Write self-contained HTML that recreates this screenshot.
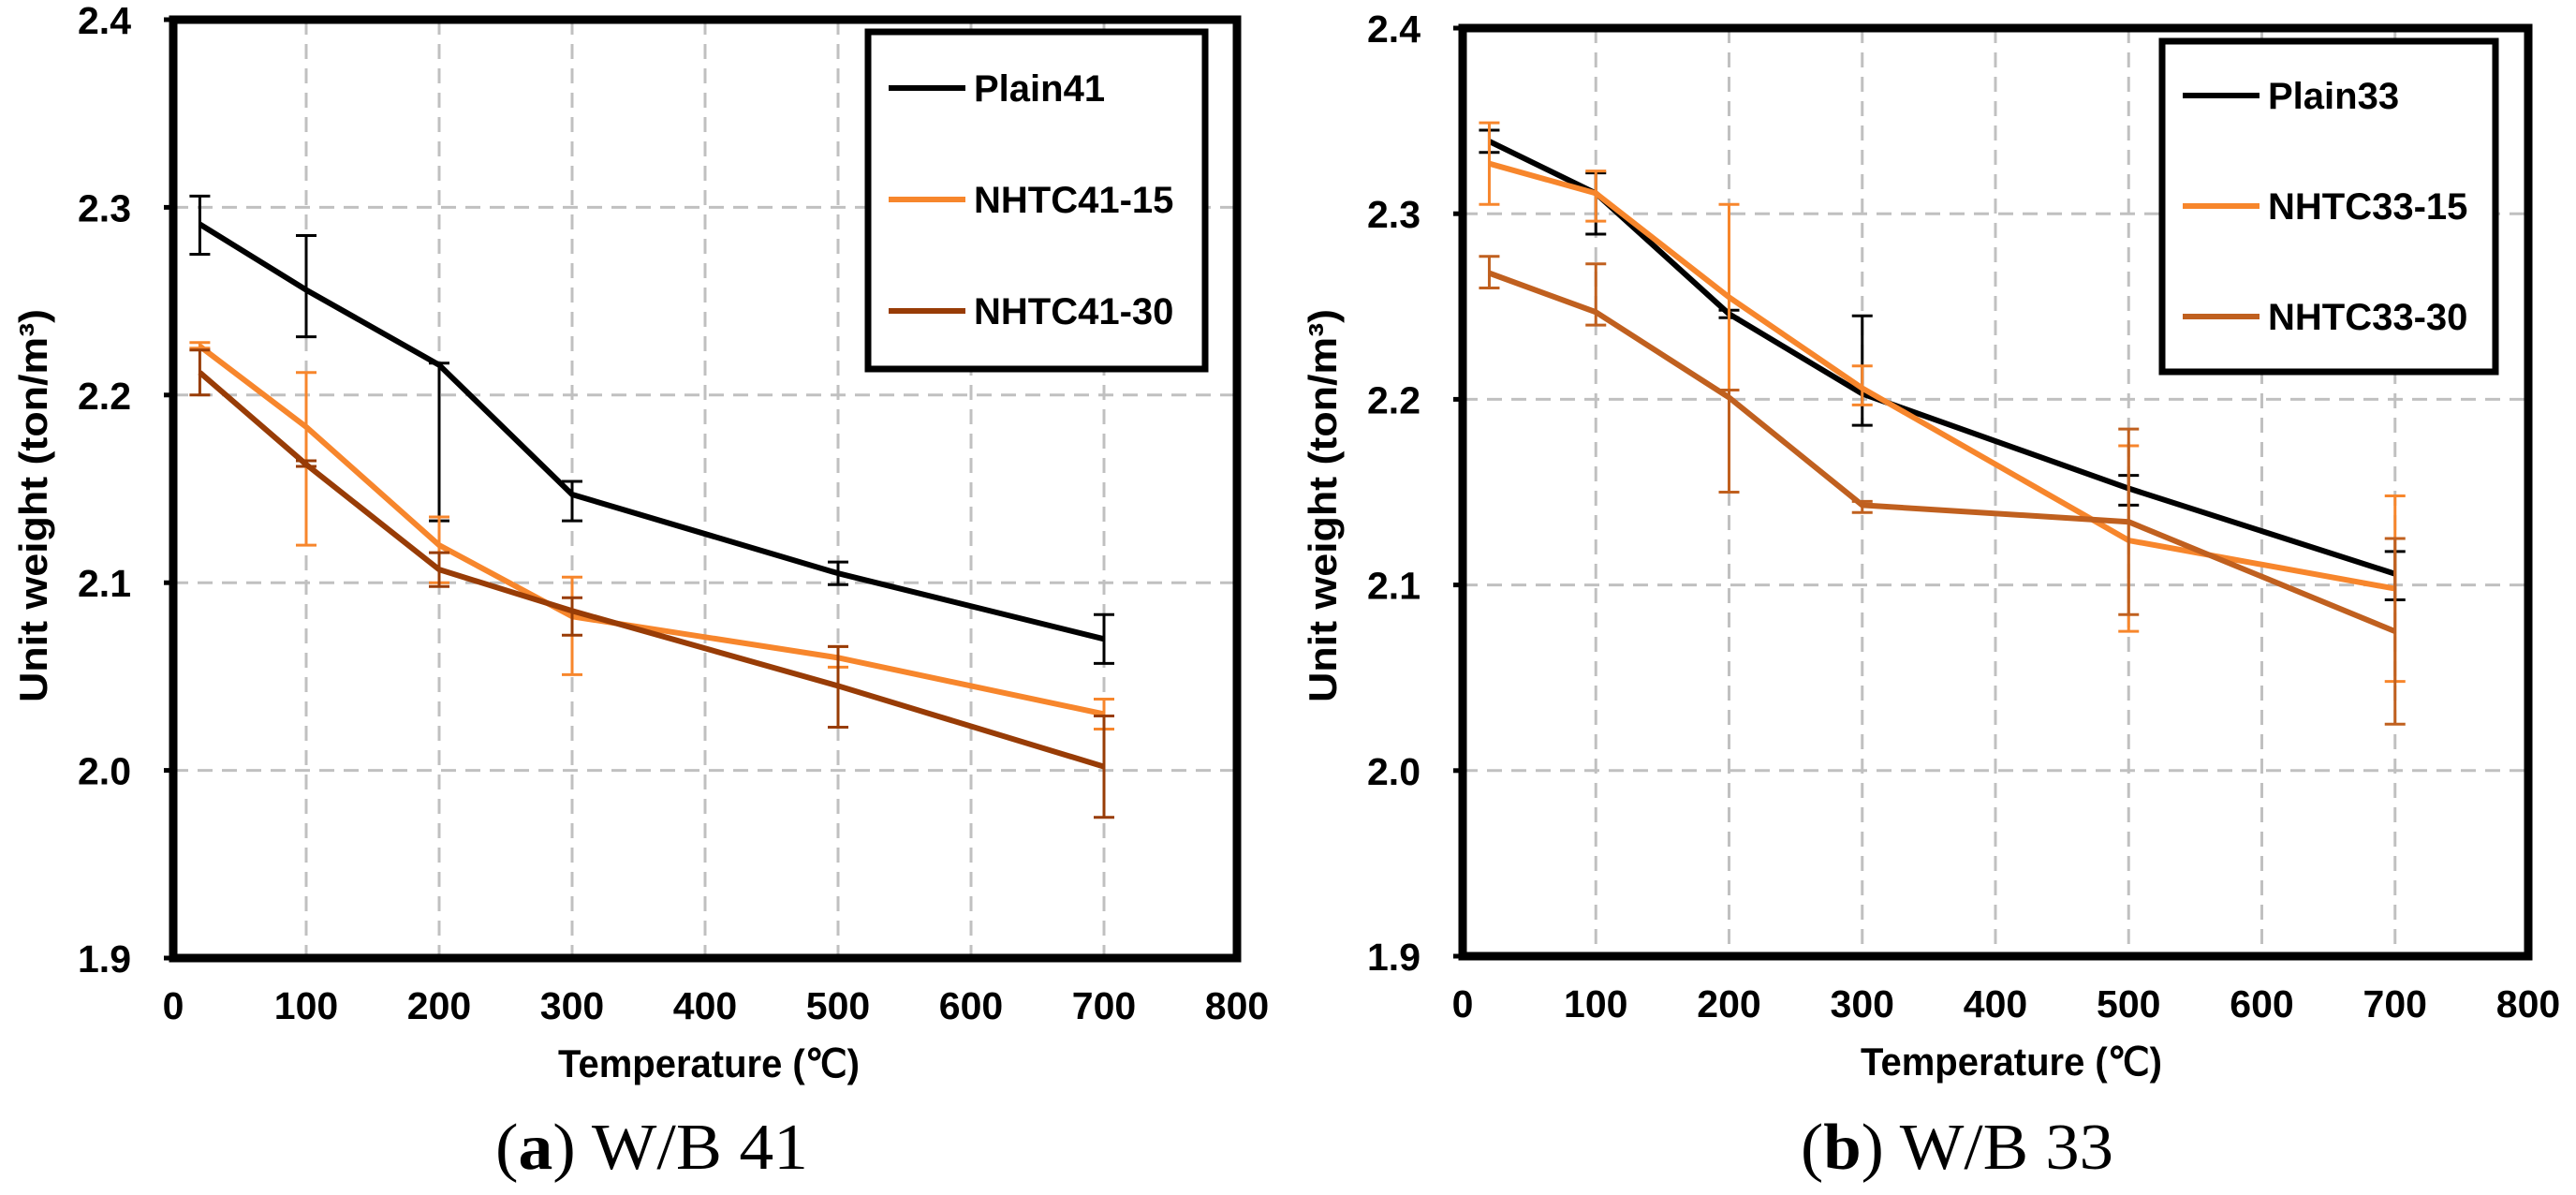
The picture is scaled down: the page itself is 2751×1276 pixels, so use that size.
<!DOCTYPE html>
<html><head><meta charset="utf-8"><style>
html,body{margin:0;padding:0;background:#fff}
svg{display:block}
text{font-family:"Liberation Sans",Arial,sans-serif;font-weight:bold;fill:#000}
.cap{font-family:"Liberation Serif","Times New Roman",serif;font-weight:normal}
</style></head><body>
<svg id="fig" width="2751" height="1276" viewBox="0 0 2751 1276" xmlns="http://www.w3.org/2000/svg"></svg>
<script>
const temps = [20, 100, 200, 300, 500, 700];
const xTicks = [0, 100, 200, 300, 400, 500, 600, 700, 800];
const yTicks = [1.9, 2.0, 2.1, 2.2, 2.3, 2.4];
const yTickLabels = ["1.9", "2.0", "2.1", "2.2", "2.3", "2.4"];
const namesA = ["Plain41", "NHTC41-15", "NHTC41-30"];
const plain41 = [2.291, 2.256, 2.216, 2.147, 2.105, 2.070];
const plain41Lo = [2.275, 2.231, 2.133, 2.133, 2.099, 2.057];
const plain41Hi = [2.306, 2.285, 2.217, 2.154, 2.111, 2.083];
const nhtc41_15 = [2.226, 2.183, 2.120, 2.082, 2.060, 2.030];
const nhtc41_15Lo = [2.225, 2.120, 2.100, 2.051, 2.055, 2.022];
const nhtc41_15Hi = [2.228, 2.212, 2.135, 2.103, 2.066, 2.038];
const nhtc41_30 = [2.212, 2.163, 2.107, 2.085, 2.045, 2.002];
const nhtc41_30Lo = [2.200, 2.162, 2.098, 2.072, 2.023, 1.975];
const nhtc41_30Hi = [2.224, 2.165, 2.116, 2.092, 2.066, 2.029];
const namesB = ["Plain33", "NHTC33-15", "NHTC33-30"];
const plain33 = [2.339, 2.311, 2.246, 2.203, 2.152, 2.106];
const plain33Lo = [2.333, 2.289, 2.244, 2.186, 2.143, 2.092];
const plain33Hi = [2.345, 2.322, 2.248, 2.245, 2.159, 2.118];
const nhtc33_15 = [2.327, 2.311, 2.255, 2.206, 2.124, 2.098];
const nhtc33_15Lo = [2.305, 2.296, 2.205, 2.197, 2.075, 2.048];
const nhtc33_15Hi = [2.349, 2.323, 2.305, 2.218, 2.175, 2.148];
const nhtc33_30 = [2.268, 2.247, 2.201, 2.143, 2.134, 2.075];
const nhtc33_30Lo = [2.260, 2.240, 2.150, 2.139, 2.084, 2.025];
const nhtc33_30Hi = [2.277, 2.273, 2.205, 2.145, 2.184, 2.125];

const NS = "http://www.w3.org/2000/svg";
const svg = document.getElementById("fig");
function mk(tag, attrs, parent) {
  const e = document.createElementNS(NS, tag);
  for (const k in attrs) e.setAttribute(k, attrs[k]);
  (parent || svg).appendChild(e);
  return e;
}
function chart(cfg) {
  const g = mk("g", {});
  
  
  const X = v => cfg.x0 + (v - 0) / 800 * (cfg.x1 - cfg.x0);
  const Y = v => cfg.y1 - (v - 1.9) / 0.5 * (cfg.y1 - cfg.y0);
  // grid
  xTicks.forEach(t => {
    if (t === 0 || t === 800) return;
    const l = mk("line", {x1: X(t), x2: X(t), y1: cfg.y0, y2: cfg.y1, stroke: "#c0c0c0", "stroke-width": 3, "stroke-dasharray": "16,10"}, g);
    
    
  });
  yTicks.forEach(t => {
    if (t === 1.9 || t === 2.4) return;
    const l = mk("line", {x1: cfg.x0, x2: cfg.x1, y1: Y(t), y2: Y(t), stroke: "#c0c0c0", "stroke-width": 3, "stroke-dasharray": "16,10"}, g);
    
    
  });
  // ticks labels
  xTicks.forEach(t => {
    const tx = mk("text", {x: X(t), y: cfg.y1 + 65, "font-size": 41, "text-anchor": "middle"}, g);
    tx.textContent = String(t);
    
    
  });
  yTicks.forEach((t, i) => {
    const tx = mk("text", {x: cfg.x0 - 45, y: Y(t) + 15, "font-size": 41, "text-anchor": "end"}, g);
    tx.textContent = yTickLabels[i];
    
    
    const tk = mk("line", {x1: cfg.x0 - 10, x2: cfg.x0, y1: Y(t), y2: Y(t), stroke: "#000", "stroke-width": 5}, g);
    
    
  });
  // series
  cfg.series.forEach((s, si) => {
    const sg = mk("g", {}, g);
    
    
    temps.forEach((t, i) => {
      const x = X(t);
      const eb = mk("path", {d: `M${x},${Y(s.lo[i])}V${Y(s.hi[i])}M${x-11},${Y(s.lo[i])}h22M${x-11},${Y(s.hi[i])}h22`, stroke: s.color, "stroke-width": 3, fill: "none"}, sg);
      
      
    });
    const pts = temps.map((t, i) => X(t) + "," + Y(s.v[i])).join(" ");
    const pl = mk("polyline", {points: pts, fill: "none", stroke: s.color, "stroke-width": 6, "stroke-linejoin": "round"}, sg);
    
    
  });
  // frame
  const fr = mk("rect", {x: cfg.x0, y: cfg.y0, width: cfg.x1 - cfg.x0, height: cfg.y1 - cfg.y0, fill: "none", stroke: "#000", "stroke-width": 9}, g);
  
  
  // legend
  const lg = mk("g", {}, g);
  
  
  const L = cfg.leg;
  mk("rect", {x: L.x, y: L.y, width: L.w, height: L.h, fill: "#fff", stroke: "#000", "stroke-width": 7}, lg);
  cfg.series.forEach((s, si) => {
    const ey = L.ey[si];
    const le = mk("g", {}, lg);
    
    
    mk("line", {x1: L.x + 22, x2: L.x + 104, y1: ey, y2: ey, stroke: s.color, "stroke-width": 6}, le);
    const tx = mk("text", {x: L.x + 113, y: ey + 14, "font-size": 40}, le);
    tx.textContent = cfg.names[si];
  });
  // axis titles
  const xt = mk("text", {x: cfg.xtx, y: cfg.y1 + 127, "font-size": 42, textLength: 322, lengthAdjust: "spacingAndGlyphs"}, g);
  xt.textContent = "Temperature (\u2103)";
  
  
  const cy = 540;
  const yt = mk("text", {x: 0, y: 0, "font-size": 42, "text-anchor": "middle", transform: `translate(${cfg.ytx},${cy}) rotate(-90)`, textLength: 420, lengthAdjust: "spacingAndGlyphs"}, g);
  yt.textContent = "Unit weight (ton/m\u00b3)";
  
  
  const cp = mk("text", {x: cfg.capx, y: 1248, "font-size": 70, "class": "cap", textLength: 334, lengthAdjust: "spacingAndGlyphs"}, g);
  cp.innerHTML = cfg.cap;
  
  
}
chart({
  id: "chart-wb41", x0: 185, x1: 1321, y0: 21, y1: 1023, xtx: 596, ytx: 50, capx: 529,
  cap: '(<tspan font-weight="bold">a</tspan>) W/B 41',
  names: namesA,
  leg: {x: 927, y: 34, w: 360, h: 360, ey: [94, 213, 332]},
  series: [
    {v: plain41, lo: plain41Lo, hi: plain41Hi, color: "#000000"},
    {v: nhtc41_15, lo: nhtc41_15Lo, hi: nhtc41_15Hi, color: "#f7862c"},
    {v: nhtc41_30, lo: nhtc41_30Lo, hi: nhtc41_30Hi, color: "#983c06"}
  ]
});
chart({
  id: "chart-wb33", x0: 1562, x1: 2700, y0: 30, y1: 1021, xtx: 1987, ytx: 1427, capx: 1923,
  cap: '(<tspan font-weight="bold">b</tspan>) W/B 33',
  names: namesB,
  leg: {x: 2309, y: 44, w: 356, h: 353, ey: [102, 220, 338]},
  series: [
    {v: plain33, lo: plain33Lo, hi: plain33Hi, color: "#000000"},
    {v: nhtc33_15, lo: nhtc33_15Lo, hi: nhtc33_15Hi, color: "#f7862c"},
    {v: nhtc33_30, lo: nhtc33_30Lo, hi: nhtc33_30Hi, color: "#c0601f"}
  ]
});
</script>
</body></html>
